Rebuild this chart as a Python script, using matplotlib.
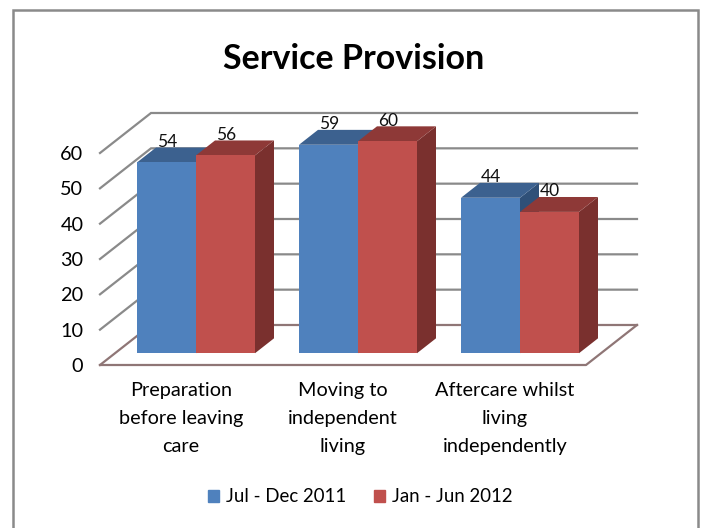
import numpy as np
import matplotlib
matplotlib.use("Agg")
import matplotlib.pyplot as plt
from matplotlib.patches import Polygon, Rectangle

plt.rcParams['font.family'] = ['Lato', 'DejaVu Sans']

# Data
categories = ["Preparation\nbefore leaving\ncare", "Moving to\nindependent\nliving",
              "Aftercare whilst\nliving\nindependently"]
jul_dec_2011 = [54, 59, 44]
jan_jun_2012 = [56, 60, 40]
series_names = ["Jul - Dec 2011", "Jan - Jun 2012"]
y_ticks = [0, 10, 20, 30, 40, 50, 60]

# Fake 3D: how far "into the page" a point moves, in data units
wall_dx = 51 / 162
wall_dy = 40 / 3.533
bar_start = 15 / 51
bar_end = 34 / 51
bar_width = 59 / 162

blue = ["#4f81bd", "#3c618f", "#2f5078"]
red = ["#c0504d", "#8e3937", "#7a302e"]
grid_color = "#8a8a8a"
floor_color = "#8f7676"


def depth(x, y, d):
    return x + d * wall_dx, y + d * wall_dy


def draw_bar(ax, x, value, colors, z):
    x0, x1 = x, x + bar_width
    front = [depth(x0, 0, bar_start), depth(x1, 0, bar_start),
             depth(x1, value, bar_start), depth(x0, value, bar_start)]
    top = [depth(x0, value, bar_start), depth(x1, value, bar_start),
           depth(x1, value, bar_end), depth(x0, value, bar_end)]
    side = [depth(x1, 0, bar_start), depth(x1, 0, bar_end),
            depth(x1, value, bar_end), depth(x1, value, bar_start)]
    ax.add_patch(Polygon(side, facecolor=colors[2], edgecolor="none", zorder=z, clip_on=False))
    ax.add_patch(Polygon(top, facecolor=colors[1], edgecolor="none", zorder=z, clip_on=False))
    ax.add_patch(Polygon(front, facecolor=colors[0], edgecolor="none", zorder=z, clip_on=False))
    lx, ly = depth(x + bar_width / 2, value, bar_end)
    ax.text(lx - 0.115, ly - 0.7, str(value), ha="center", va="bottom", fontsize=12.5,
            color="#111111", zorder=20, clip_on=False)


fig = plt.figure(figsize=(7.01, 5.28), dpi=100)
fig.patches.append(Rectangle((12.5 / 701, -10 / 528), 685 / 701, 528 / 528, transform=fig.transFigure,
                             facecolor="none", edgecolor="#8a8a8a", linewidth=1.8))

ax = fig.add_axes([100 / 701, (528 - 365) / 528, 486 / 701, 212 / 528])
ax.set_xlim(0, 3)
ax.set_ylim(0, 60)
for s in ax.spines.values():
    s.set_visible(False)
ax.patch.set_visible(False)

# Walls and floor
for v in y_ticks:
    c = floor_color if v == 0 else grid_color
    bx, by = depth(0, v, 1)
    ex, ey = depth(3, v, 1)
    ax.plot([0, bx, ex], [v, by, ey], color=c, lw=1.6, zorder=1, clip_on=False, solid_joinstyle="miter")
fx, fy = depth(3, 0, 1)
ax.plot([0, 3, fx], [0, 0, fy], color=floor_color, lw=1.6, zorder=1, clip_on=False)

# Bars, left to right and back to front
x_centers = np.arange(len(categories)) + 0.5
for i, xc in enumerate(x_centers):
    draw_bar(ax, xc - bar_width, jul_dec_2011[i], blue, 3 + i * 2)
    draw_bar(ax, xc, jan_jun_2012[i], red, 4 + i * 2)

ax.set_yticks(y_ticks)
ax.set_xticks(x_centers)
ax.set_xticklabels(categories, fontsize=14.3, linespacing=1.78)
ax.tick_params(axis="y", length=0, pad=12, labelsize=14.3)
ax.tick_params(axis="x", length=0, pad=12)

# Title and legend
fig.text(354 / 701, 1 - 59 / 528, "Service Provision", ha="center", va="center",
         fontsize=24.5, fontweight="bold", color="black")
handles = [Rectangle((0, 0), 1, 1, color=blue[0]), Rectangle((0, 0), 1, 1, color=red[0])]
fig.legend(handles, series_names, loc="center", bbox_to_anchor=(360 / 701, 1 - 497 / 528), ncol=2,
           frameon=False, fontsize=13.4, handlelength=0.62, handleheight=0.62, handletextpad=0.35,
           columnspacing=1.5)

fig.savefig("out.png", dpi=100)
